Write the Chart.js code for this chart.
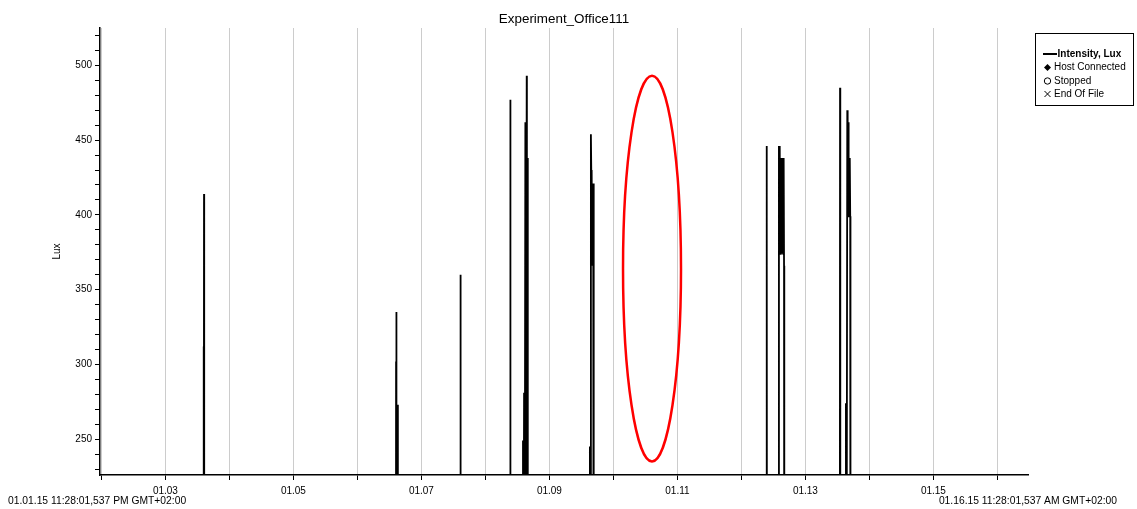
<!DOCTYPE html>
<html lang="en">
<head>
<meta charset="UTF-8">
<title>Experiment_Office111</title>
<script src="https://cdn.jsdelivr.net/npm/chart.js"></script>
<style>
  html, body { margin: 0; padding: 0; background: #fff; }
</style>
</head>
<body>
<canvas id="luxChart" width="1137" height="509"></canvas>
<script>
// time as fractional day of January 2015, lux readings (0 = dark, below the shown range)
const readingDays = [
  3.594, 3.597, 3.600, 3.603, 3.606,
  6.600, 6.604, 6.608, 6.611, 6.628, 6.632,
  7.604, 7.607, 7.610, 7.614, 7.617,
  8.386, 8.389, 8.392,
  8.584, 8.587, 8.590, 8.604, 8.610, 8.624, 8.630, 8.645, 8.648, 8.656, 8.662,
  9.628, 9.632, 9.636, 9.648, 9.654, 9.658, 9.662, 9.666, 9.672, 9.678, 9.684, 9.690, 9.694,
  12.391, 12.394, 12.397, 12.400,
  12.582, 12.586, 12.592, 12.597, 12.600, 12.606, 12.612, 12.618, 12.624, 12.630,
  12.636, 12.642, 12.648, 12.654, 12.660, 12.666, 12.670,
  13.537, 13.541, 13.545,
  13.628, 13.633, 13.640, 13.654, 13.660, 13.666, 13.672, 13.678, 13.684, 13.690,
  13.696, 13.700, 13.704
];
const readingLux = [
  0, 312, 0, 414, 0,
  0, 302, 335, 0, 273, 0,
  0, 249, 0, 360, 0,
  0, 477, 0,
  0, 249, 0, 281, 0, 462, 0, 493, 0, 438, 0,
  0, 245, 0, 454, 430, 383, 430, 383, 421, 366, 421, 366, 0,
  0, 446, 399, 0,
  0, 446, 438, 374, 446, 374, 438, 374, 438, 374,
  438, 374, 438, 374, 438, 366, 0,
  0, 485, 0,
  0, 274, 0, 470, 462, 399, 462, 399, 438, 399,
  438, 399, 0
];

const chartTitle = 'Experiment_Office111';
const rangeStart = 1 + (23 + 28 / 60) / 24;   // 01.01.15 11:28 PM
const rangeEnd = 16 + (11 + 28 / 60) / 24;    // 01.16.15 11:28 AM
const startLabel = '01.01.15 11:28:01,537 PM GMT+02:00';
const endLabel = '01.16.15 11:28:01,537 AM GMT+02:00';
const luxMin = 226;
const luxMax = 525;
const legendNames = ['Intensity, Lux', 'Host Connected', 'Stopped', 'End Of File'];
const legendStyles = ['line', 'rectRot', 'circle', 'crossRot'];
// red ellipse around the missing day, in data units
const gapCenter = [10.603, 364];
const gapRadius = [0.453, 129];

const FONT = '"Liberation Sans", Arial, sans-serif';

const decor = {
  id: 'decor',
  afterDatasetsDraw(chart) {
    const { ctx, scales: { x, y } } = chart;
    const cx = x.getPixelForValue(gapCenter[0]);
    const cy = y.getPixelForValue(gapCenter[1]);
    const rx = x.getPixelForValue(gapCenter[0] + gapRadius[0]) - cx;
    const ry = cy - y.getPixelForValue(gapCenter[1] + gapRadius[1]);
    ctx.save();
    ctx.beginPath();
    ctx.ellipse(cx, cy, rx, ry, 0, 0, Math.PI * 2);
    ctx.strokeStyle = '#ff0000';
    ctx.lineWidth = 2.5;
    ctx.stroke();
    ctx.restore();
  },
  afterDraw(chart) {
    const { ctx, chartArea: a } = chart;
    ctx.save();
    ctx.fillStyle = '#000';
    ctx.textBaseline = 'middle';

    ctx.font = '13.4px ' + FONT;
    ctx.textAlign = 'center';
    ctx.fillText(chartTitle, (a.left + a.right) / 2, 19);

    ctx.font = '10.3px ' + FONT;
    ctx.textAlign = 'left';
    ctx.fillText(startLabel, 8, 501);
    ctx.textAlign = 'right';
    ctx.fillText(endLabel, 1117, 501);

    // legend box
    const bx = 1035, by = 33, bw = 98, bh = 72;
    ctx.fillStyle = '#fff';
    ctx.fillRect(bx, by, bw, bh);
    ctx.strokeStyle = '#000';
    ctx.lineWidth = 1;
    ctx.strokeRect(bx + 0.5, by + 0.5, bw, bh);
    ctx.fillStyle = '#000';
    ctx.textAlign = 'left';
    const rowY = [54, 67.5, 81, 94];
    legendNames.forEach((name, i) => {
      const yy = rowY[i];
      const sx = 1047.5;
      ctx.beginPath();
      if (legendStyles[i] === 'line') {
        ctx.lineWidth = 2;
        ctx.moveTo(1043, yy);
        ctx.lineTo(1057, yy);
        ctx.stroke();
      } else if (legendStyles[i] === 'rectRot') {
        ctx.moveTo(sx, yy - 3.5);
        ctx.lineTo(sx + 3.5, yy);
        ctx.lineTo(sx, yy + 3.5);
        ctx.lineTo(sx - 3.5, yy);
        ctx.closePath();
        ctx.fill();
      } else if (legendStyles[i] === 'circle') {
        ctx.lineWidth = 1;
        ctx.arc(sx, yy, 3.2, 0, Math.PI * 2);
        ctx.stroke();
      } else {
        ctx.lineWidth = 1;
        ctx.moveTo(sx - 3, yy - 3); ctx.lineTo(sx + 3, yy + 3);
        ctx.moveTo(sx + 3, yy - 3); ctx.lineTo(sx - 3, yy + 3);
        ctx.stroke();
      }
      ctx.font = (i === 0 ? 'bold ' : '') + '10px ' + FONT;
      ctx.fillText(name, i === 0 ? 1057.5 : 1054, yy);
    });
    ctx.restore();
  }
};

new Chart(document.getElementById('luxChart'), {
  type: 'line',
  data: {
    datasets: [{
      label: legendNames[0],
      data: readingDays.map((d, i) => ({ x: d, y: readingLux[i] })),
      borderColor: '#000',
      borderWidth: 1.8,
      pointRadius: 0,
      tension: 0,
      fill: false
    }]
  },
  options: {
    responsive: false,
    animation: false,
    layout: { padding: { left: 0, right: 109, top: 28, bottom: 0 } },
    plugins: { legend: { display: false }, tooltip: { enabled: false } },
    scales: {
      x: {
        type: 'linear',
        min: rangeStart,
        max: rangeEnd,
        afterFit(s) { s.height = 34; },
        border: { color: '#000', width: 1.5 },
        grid: { color: '#cccccc', lineWidth: 1, tickColor: '#000', tickLength: 5, tickWidth: 1 },
        ticks: {
          stepSize: 1, includeBounds: false, autoSkip: false, maxRotation: 0, padding: 5,
          color: '#000', font: { family: FONT, size: 10 },
          callback: v => v % 2 === 1 ? '01.' + String(v).padStart(2, '0') : ''
        }
      },
      y: {
        min: luxMin,
        max: luxMax,
        afterFit(s) { s.width = 100; },
        border: { color: '#000', width: 1.5 },
        grid: { drawOnChartArea: false, tickColor: '#000', tickLength: 5, tickWidth: 1 },
        ticks: {
          stepSize: 10, includeBounds: false, autoSkip: false, padding: 3,
          color: '#000', font: { family: FONT, size: 10 },
          callback: v => v % 50 === 0 ? v : ''
        },
        title: {
          display: true, text: 'Lux', color: '#000',
          font: { family: FONT, size: 10 }, padding: { top: 51, bottom: 0 }
        }
      }
    }
  },
  plugins: [decor]
});
</script>
</body>
</html>
